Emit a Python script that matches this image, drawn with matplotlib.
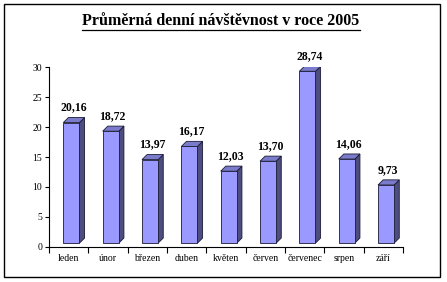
import matplotlib
matplotlib.use("Agg")
import matplotlib.pyplot as plt
from matplotlib.patches import Polygon, Rectangle

months = ["leden", "únor", "březen", "duben", "květen", "červen", "červenec", "srpen", "září"]
visits = [20.16, 18.72, 13.97, 16.17, 12.03, 13.70, 28.74, 14.06, 9.73]
labels = ["20,16", "18,72", "13,97", "16,17", "12,03", "13,70", "28,74", "14,06", "9,73"]
title = "Průměrná denní návštěvnost v roce 2005"

plt.rcParams['font.family'] = ['Liberation Serif', 'DejaVu Serif']

fg = plt.figure(figsize=(4.47, 2.82), dpi=100)
ax = fg.add_axes([0.1096, 0.1252, 0.792, 0.636])

# pseudo-3D columns
w = 0.41      # front width
off = 0.07    # shift of the front face from category centre
lift = 0.6    # floor lift
dx = 0.13     # depth in x (category units)
dy = 0.85     # depth in y (value units)
front_c = "#9999ff"
side_c = "#4d4d80"
top_c = "#7b7bcc"
edge_c = "#1a1a33"

for i, v in enumerate(visits):
    x0 = i - w / 2 + off
    x1 = x0 + w
    y0 = lift
    y1 = v + lift
    ax.add_patch(Polygon([(x1, y0), (x1 + dx, y0 + dy), (x1 + dx, y1 + dy), (x1, y1)],
                         closed=True, fc=side_c, ec=edge_c, lw=0.6, zorder=2))
    ax.add_patch(Polygon([(x0, y1), (x0 + dx, y1 + dy), (x1 + dx, y1 + dy), (x1, y1)],
                         closed=True, fc=top_c, ec=edge_c, lw=0.6, zorder=2))
    ax.add_patch(Rectangle((x0, y0), w, v, fc=front_c, ec=edge_c, lw=0.6, zorder=3))
    ax.text(i + 0.12, y1 + dy + 0.7, labels[i], ha="center", va="bottom",
            fontsize=8.5, fontweight="bold")

ax.set_xlim(-0.5, len(months) - 0.5)
ax.set_ylim(0, 30)
ax.set_yticks(range(0, 31, 5))
ax.set_xticks(range(len(months)))
ax.set_xticklabels(months)
ax.set_xticks([i + 0.5 for i in range(-1, len(months))], minor=True)
ax.tick_params(axis="x", which="major", length=0, labelsize=7, pad=5)
ax.tick_params(axis="x", which="minor", length=4, direction="out", width=0.8)
ax.tick_params(axis="y", length=3, direction="out", labelsize=7, pad=2, width=0.8)
ax.spines["top"].set_visible(False)
ax.spines["right"].set_visible(False)
ax.spines["left"].set_linewidth(0.8)
ax.spines["bottom"].set_linewidth(0.8)
ax.patch.set_visible(False)

# title with underline
t = fg.text(0.4944, 0.927, title, ha="center", va="center",
            fontsize=11.5, fontweight="bold")
fg.canvas.draw()
bb = t.get_window_extent(renderer=fg.canvas.get_renderer())
W, H = fg.get_size_inches() * fg.dpi
yl = (bb.y0 - 1) / H
fg.add_artist(plt.Line2D([bb.x0 / W, bb.x1 / W], [yl, yl], color="black", lw=0.9,
                         transform=fg.transFigure))

# chart border
fg.add_artist(Rectangle((4 / W, 5 / H), 436 / W, 273 / H, transform=fg.transFigure,
                        fill=False, ec="black", lw=1.0))

fg.savefig("out.png", dpi=100)
